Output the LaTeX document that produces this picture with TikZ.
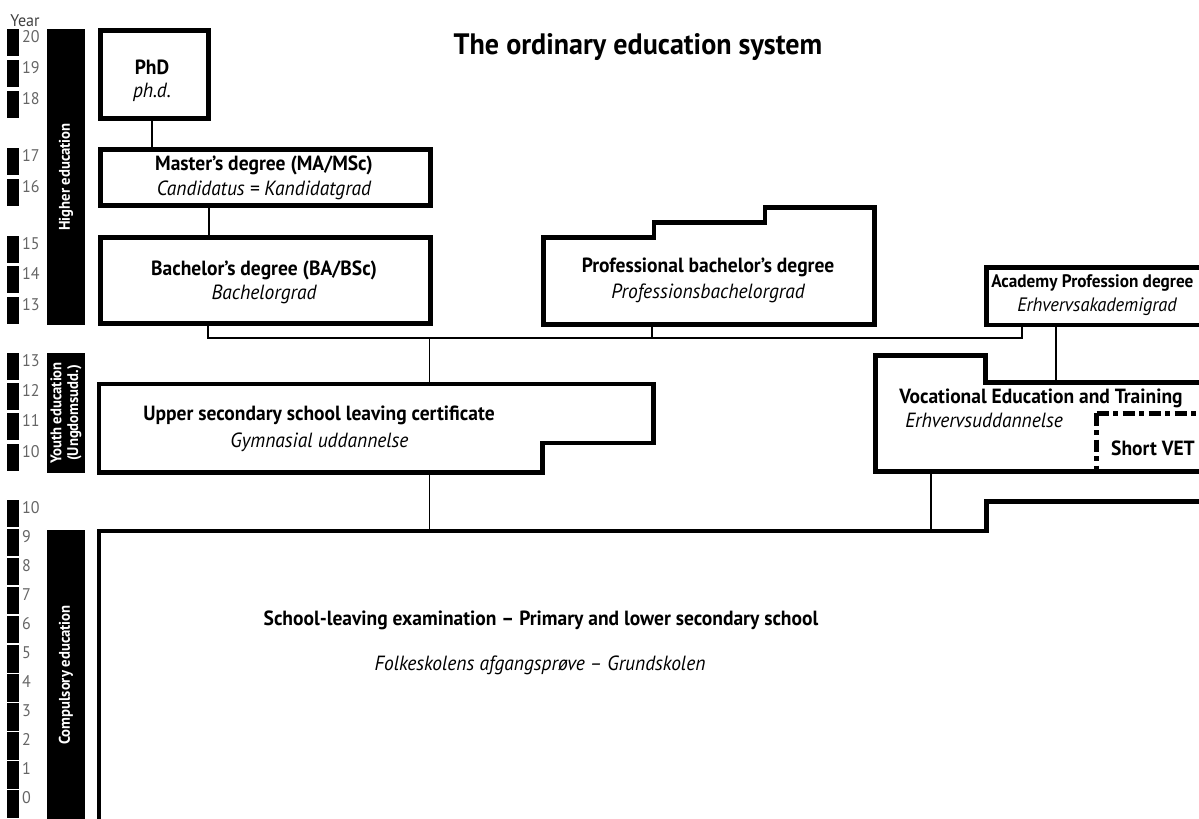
\documentclass[tikz,border=0pt]{standalone}
\usepackage{fontspec}
\setmainfont{PT Sans}[FakeStretch=0.95]
\usepackage{tikz}

\begin{document}
\begin{tikzpicture}[x=0.025cm,y=-0.025cm,
  box/.style={line width=3.2pt,line join=miter},
  link/.style={line width=1.1pt},
  vetdash/.style={dash pattern=on 9pt off 3pt on 3.5pt off 3pt},
  heading/.style={font=\bfseries\fontsize{21}{24}\selectfont},
  lbl/.style={font=\bfseries\fontsize{14.6}{17}\selectfont,inner sep=0pt},
  sub/.style={font=\itshape\fontsize{14.6}{17}\selectfont,inner sep=0pt},
  cat/.style={font=\bfseries\fontsize{11}{12}\selectfont,text=white,rotate=90,align=center,inner sep=0pt},
  yrnum/.style={font=\fontsize{12}{13}\selectfont,text=black!60,anchor=north west,inner sep=1pt}]

  \useasboundingbox (0,0) rectangle (1199,819);
  \clip (0,0) rectangle (1199,819);
  \fill[white] (0,0) rectangle (1199,819);

  % year scale
  \node[font=\fontsize{12}{13}\selectfont,text=black!75,inner sep=0pt] (yearlbl) at (25,21) {Year};
  \foreach \yr/\top in {20/29,19/60,18/91,17/148,16/179,15/236,14/266,13/297,
                        13/353,12/383,11/413,10/444,
                        10/500,9/529,8/558,7/587,6/616,5/645,4/674,3/703,2/732,1/761,0/790} {
    \fill (7,\top) rectangle (19,\top+27.5);
    \node[yrnum] (yr\top) at (20.5,\top) {\yr};
  }

  % black bars for the three levels
  \fill (47,29) rectangle (85,325);
  \node[cat] (higher) at (66,177) {Higher education};
  \fill (47,353) rectangle (85,473);
  \node[cat] (youth) at (66,413) {Youth education\\(Ungdomsudd.)};
  \fill (47,530) rectangle (85,830);
  \node[cat] (compulsory) at (66,675) {Compulsory education};

  % title
  \node[heading] (title) at (638,47) {The ordinary education system};

  % higher education boxes
  \draw[box] (100.5,30.5) rectangle (208.5,118.5);
  \node[lbl] (phd) at (152,67) {PhD};
  \node[sub] (phdda) at (152,92) {ph.d.};

  \draw[box] (100.5,149.5) rectangle (430.5,205.5);
  \node[lbl] (master) at (264,165) {Master's degree (MA/MSc)};
  \node[sub] (masterda) at (264,190) {Candidatus = Kandidatgrad};

  \draw[box] (100.5,237.5) rectangle (430.5,323.5);
  \node[lbl] (bachelor) at (264,270) {Bachelor's degree (BA/BSc)};
  \node[sub] (bachelorda) at (264,294) {Bachelorgrad};

  \draw[box] (543.5,324.5) |- (654,237.5) |- (765,222.5) |- (874.5,207.5) -- (874.5,324.5) -- cycle;
  \node[lbl] (profbach) at (708,267) {Professional bachelor's degree};
  \node[sub] (profbachda) at (708,293) {Professionsbachelorgrad};

  \draw[box] (1230,267.5) -| (986.5,325) -- (1230,325);
  \node[lbl,font=\bfseries\fontsize{12.9}{15}\selectfont,anchor=west] (academy) at (991,283) {Academy Profession degree};
  \node[sub,font=\itshape\fontsize{13.8}{15}\selectfont] (academyda) at (1097,307) {Erhvervsakademigrad};

  % youth education boxes
  \draw[box] (99,384) -- (653.5,384) -- (653.5,443) -- (542.5,443) -- (542.5,472.5) -- (99,472.5) -- cycle;
  \node[lbl] (gym) at (319,415) {Upper secondary school leaving certificate};
  \node[sub] (gymda) at (319.5,442) {Gymnasial uddannelse};

  \draw[box] (1230,382.5) -| (985.5,355.5) -| (875.5,471.5) -- (1230,471.5);
  \node[lbl,anchor=west] (vet) at (899,398) {Vocational Education and Training};
  \node[sub,anchor=west] (vetda) at (905,420) {Erhvervsuddannelse};
  \draw[box,vetdash] (1096.5,413.5) -- (1096.5,471.5);
  \draw[box,vetdash] (1096.5,413.5) -- (1230,413.5);
  \node[lbl] (shortvet) at (1153,448) {Short VET};

  % compulsory education box
  \draw[box] (99,830) -- (99,531) -| (986.5,501.5) -- (1230,501.5);
  \node[lbl] (school) at (541,620) {School-leaving examination -- Primary and lower secondary school};
  \node[sub] (schoolda) at (540,665) {Folkeskolens afgangsprøve -- Grundskolen};

  % connecting lines
  \coordinate (phdS) at (152,118.5);
  \coordinate (masterN) at (152,149.5);
  \coordinate (masterS) at (209,205.5);
  \coordinate (bachelorN) at (209,237.5);
  \coordinate (bachelorS) at (208,323.5);
  \coordinate (profbachS) at (652,324.5);
  \coordinate (academyS) at (1022,325);
  \coordinate (academyS2) at (1056,325);
  \coordinate (hub) at (0,338);
  \coordinate (gymN) at (429.5,384);
  \coordinate (gymS) at (429.5,472.5);
  \coordinate (vetN) at (1056,382.5);
  \coordinate (vetS) at (931,471.5);
  \coordinate (schoolN1) at (429.5,531);
  \coordinate (schoolN2) at (931,531);

  \draw[link] (phdS) -- (masterN);
  \draw[link] (masterS) -- (bachelorN);
  \draw[link] (bachelorS) -- (bachelorS |- hub) -| (academyS);
  \draw[link] (profbachS) -- (profbachS |- hub);
  \draw[link] (gymN) -- (gymN |- hub);
  \draw[link] (academyS2) -- (vetN);
  \draw[link] (gymS) -- (schoolN1);
  \draw[link] (vetS) -- (schoolN2);

\end{tikzpicture}
\end{document}
